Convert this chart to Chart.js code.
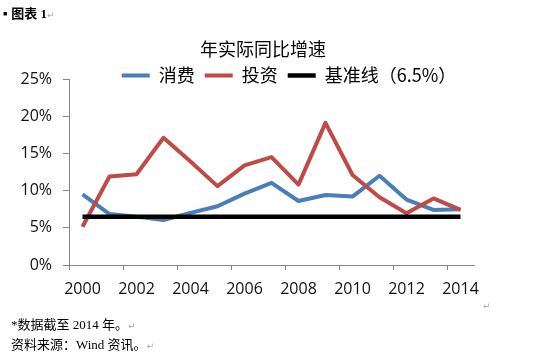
<!DOCTYPE html>
<html>
<head>
<meta charset="utf-8">
<script src="https://cdn.jsdelivr.net/npm/chart.js@4/dist/chart.umd.min.js"></script>
<style>
  body { margin: 0; background: #fff; }
  #wrap { position: relative; width: 550px; height: 352px; overflow: hidden; background: #fff; }
  #growth { position: absolute; left: 0; top: 0; }
  .txt { position: absolute; white-space: nowrap; color: #000; line-height: 16px; }
  .mark { color: #aaa; font-family: "DejaVu Sans"; font-size: 9px; font-weight: normal; }
  .note { font: 13px "Liberation Serif", "Noto Sans CJK SC"; }
</style>
</head>
<body>
<div id="wrap">
  <canvas id="growth" width="550" height="352"></canvas>
  <div class="txt" style="left:3px; top:3px; font: bold 13px 'Liberation Serif', 'Noto Sans CJK SC';"><span style="font-size:7px; vertical-align:2px; margin-right:4px;">■</span>图表 1<span class="mark">↵</span></div>
  <div class="txt mark" style="left:483px; top:298px;">↵</div>
  <div class="txt note" style="left:11px; top:314px;">*数据截至 2014 年。<span class="mark">↵</span></div>
  <div class="txt note" style="left:11px; top:334px;">资料来源：Wind 资讯。<span class="mark">↵</span></div>
</div>
<script>
// Datos (porcentaje, crecimiento real interanual)
const years = ["2000", "2001", "2002", "2003", "2004", "2005", "2006", "2007",
               "2008", "2009", "2010", "2011", "2012", "2013", "2014"];
const consumo = [9.5, 6.85, 6.5, 6.05, 7.0, 7.9, 9.6, 11.05, 8.6, 9.4, 9.2, 12.0, 8.8, 7.4, 7.5];
const inversion = [5.15, 11.9, 12.2, 17.1, 13.9, 10.6, 13.4, 14.5, 10.8, 19.1, 12.1, 9.1, 6.95, 8.95, 7.4];
const base = [6.5, 6.5, 6.5, 6.5, 6.5, 6.5, 6.5, 6.5, 6.5, 6.5, 6.5, 6.5, 6.5, 6.5, 6.5];
const seriesNames = ["消费", "投资", "基准线（6.5%）"];
const yTicks = [0, 5, 10, 15, 20, 25];

const axisGray = "#868686";

// La leyenda no ocupa espacio en el layout; se coloca a mano bajo el título
const nudge = {
  id: "nudge",
  afterInit(chart) {
    const lg = chart.legend;
    const fit = lg.fit.bind(lg);
    lg.fit = function () {
      fit();
      this.height = 0;
    };
  },
  afterLayout(chart) {
    const t = chart.titleBlock;
    t.left += 26;
    t.right += 26;
    const lg = chart.legend;
    lg.top = 56.5;
    lg.bottom = lg.top + 38;
    lg.left += 52;
    lg.right += 52;
  },
};

const ctx = document.getElementById("growth").getContext("2d");

new Chart(ctx, {
  type: "line",
  data: {
    labels: years,
    datasets: [
      { label: seriesNames[0], data: consumo, borderColor: "#4A7EBB", backgroundColor: "#4A7EBB", borderWidth: 4, order: 3 },
      { label: seriesNames[1], data: inversion, borderColor: "#BE4B48", backgroundColor: "#BE4B48", borderWidth: 4, order: 2 },
      { label: seriesNames[2], data: base, borderColor: "#000000", backgroundColor: "#000000", borderWidth: 4.5, order: 1 },
    ],
  },
  options: {
    responsive: false,
    animation: false,
    elements: {
      point: { radius: 0, hoverRadius: 0 },
      line: { tension: 0, borderJoinStyle: "round", borderCapStyle: "butt" },
    },
    layout: { padding: { left: 0, right: 76, top: 0, bottom: 47 } },
    scales: {
      x: {
        type: "category",
        offset: true,
        afterFit: (s) => { s.height = 40; },
        border: { display: true, color: axisGray, width: 1 },
        grid: {
          offset: true,
          drawOnChartArea: false,
          drawTicks: true,
          tickLength: 5,
          color: (c) => (c.index % 2 === 0 ? axisGray : "rgba(0,0,0,0)"),
          tickColor: (c) => (c.index % 2 === 0 ? axisGray : "rgba(0,0,0,0)"),
        },
        ticks: {
          autoSkip: false,
          maxRotation: 0,
          padding: 10,
          color: "#111",
          font: { family: "Open Sans", size: 16 },
          callback: function (v, i) { return i % 2 === 0 ? this.getLabelForValue(v) : ""; },
        },
      },
      y: {
        min: yTicks[0],
        max: yTicks[yTicks.length - 1],
        afterFit: (s) => { s.width = 69; },
        afterBuildTicks: (s) => { s.ticks = yTicks.map((v) => ({ value: v })); },
        border: { display: true, color: axisGray, width: 1 },
        grid: { drawOnChartArea: false, drawTicks: true, tickLength: 6, color: axisGray },
        ticks: {
          padding: 11,
          color: "#111",
          font: { family: "Open Sans", size: 16 },
          callback: (v) => v + "%",
        },
      },
    },
    plugins: {
      title: {
        display: true,
        text: "年实际同比增速",
        color: "#000",
        font: { family: "Noto Sans CJK SC", size: 18, weight: "normal" },
        padding: { top: 38, bottom: 19.4 },
      },
      legend: {
        position: "top",
        labels: {
          usePointStyle: true,
          pointStyle: "line",
          pointStyleWidth: 28,
          color: "#000",
          padding: 10,
          font: { family: "Noto Sans CJK SC", size: 18 },
          sort: (a, b) => a.datasetIndex - b.datasetIndex,
        },
      },
      tooltip: { enabled: false },
    },
  },
  plugins: [nudge],
});
</script>
</body>
</html>
